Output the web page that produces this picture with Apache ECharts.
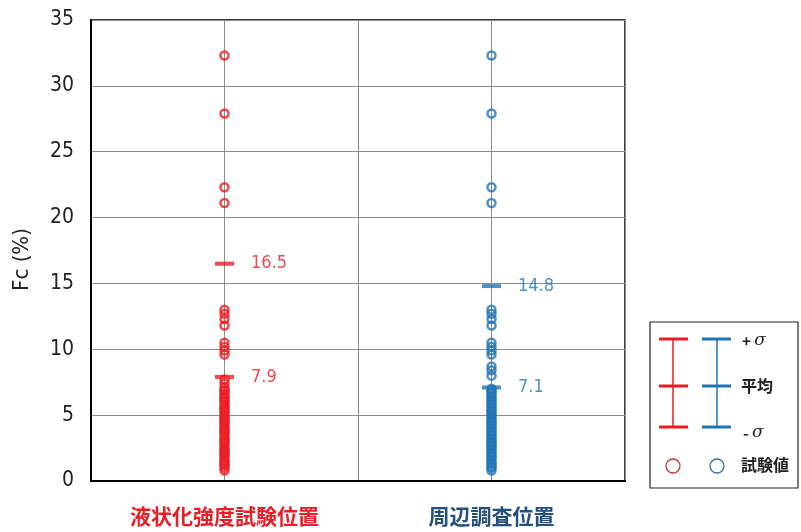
<!DOCTYPE html>
<html>
<head>
<meta charset="utf-8">
<script src="https://cdn.jsdelivr.net/npm/echarts@6/dist/echarts.min.js"></script>
<style>html,body{margin:0;padding:0;background:#fff;}#main{width:801px;height:532px;}</style>
</head>
<body>
<div id="main"></div>
<script>
// ---- data ----
var categories = ['液状化強度試験位置', '周辺調査位置'];
var yTicks = [0, 5, 10, 15, 20, 25, 30, 35];
var redValues = [32.3, 27.9, 22.3, 21.1, 13.0, 12.7, 12.3, 11.8, 10.5, 10.2, 9.9, 9.6, 7.7, 7.4,
  7.1, 6.9, 6.8, 6.6, 6.4, 6.3, 6.1, 6.0, 5.8, 5.6, 5.5, 5.3, 5.2, 5.0, 4.8, 4.7, 4.5, 4.4, 4.2, 4.0, 3.9, 3.7,
  3.6, 3.4, 3.2, 3.1, 2.9, 2.8, 2.6, 2.4, 2.3, 2.1, 2.0, 1.8, 1.6, 1.5, 1.3, 1.2, 1.0, 0.8];
var blueValues = [32.3, 27.9, 22.3, 21.1, 13.0, 12.7, 12.3, 11.8, 10.5, 10.2, 9.9, 9.6, 8.7, 8.4, 8.0,
  7.0, 6.9, 6.7, 6.6, 6.4, 6.2, 6.1, 5.9, 5.8, 5.6, 5.4, 5.3, 5.1, 5.0, 4.8, 4.6, 4.5, 4.3, 4.2, 4.0, 3.8, 3.7,
  3.5, 3.4, 3.2, 3.0, 2.9, 2.7, 2.6, 2.4, 2.2, 2.1, 1.9, 1.8, 1.6, 1.4, 1.3, 1.1, 1.0, 0.8];
var redMean = 7.9, redPlusSigma = 16.5;
var blueMean = 7.1, bluePlusSigma = 14.8;

var RED = '#ec1c24', BLUE = '#1f74b6', CATBLUE = '#24507e';
var NUMFONT = '"DejaVu Sans Condensed", "Liberation Sans", Arial, sans-serif';

var chart = echarts.init(document.getElementById('main'), null, {renderer: 'canvas'});

function pts(idx, arr) { return arr.map(function (v) { return [idx, v]; }); }

var option = {
  backgroundColor: '#fff',
  animation: false,
  grid: {left: 91, right: 176, top: 20, bottom: 51, show: true, borderColor: '#000', borderWidth: 1.5, backgroundColor: 'transparent'},
  xAxis: [
    {
      type: 'category', data: categories.map(function (c, i) {
        return {value: c, textStyle: {color: i === 0 ? RED : CATBLUE}};
      }),
      boundaryGap: true,
      axisLine: {show: true, lineStyle: {color: '#000', width: 2}},
      axisTick: {show: false},
      splitLine: {show: true, lineStyle: {color: '#8c8c8c', width: 1}},
      axisLabel: {margin: 25, fontSize: 21, fontWeight: 'bold', fontFamily: 'Noto Sans CJK JP'}
    },
    {
      type: 'value', min: 0, max: 4, interval: 1, show: true, position: 'bottom',
      axisLine: {show: false}, axisTick: {show: false}, axisLabel: {show: false},
      splitLine: {show: true, lineStyle: {color: '#8c8c8c', width: 1}}
    }
  ],
  yAxis: {
    type: 'value', min: 0, max: 35, interval: 5,
    name: 'Fc (%)', nameLocation: 'middle', nameGap: 58,
    nameTextStyle: {fontSize: 22, color: '#222', fontFamily: NUMFONT, padding: [0, 18, 0, 0]},
    axisLine: {show: true, lineStyle: {color: '#000', width: 2}},
    axisTick: {show: false},
    axisLabel: {fontSize: 21, color: '#222', margin: 17, fontFamily: NUMFONT,
      formatter: function (v) { return yTicks.indexOf(v) >= 0 ? String(v) : ''; }},
    splitLine: {show: true, lineStyle: {color: '#8c8c8c', width: 1}}
  },
  series: [
    {
      type: 'scatter', xAxisIndex: 0, data: pts(0, redValues), symbol: 'circle', symbolSize: 8,
      itemStyle: {color: 'rgba(255,255,255,0)', borderColor: RED, borderWidth: 2.5}
    },
    {
      type: 'scatter', xAxisIndex: 0, data: pts(1, blueValues), symbol: 'circle', symbolSize: 8,
      itemStyle: {color: 'rgba(255,255,255,0)', borderColor: BLUE, borderWidth: 2.5}
    },
    {
      type: 'scatter', xAxisIndex: 0, data: pts(0, [redPlusSigma, redMean]), symbol: 'rect', symbolSize: [19, 4],
      itemStyle: {color: RED}, z: 5,
      label: {show: true, position: 'right', distance: 17, color: RED, fontSize: 18, fontFamily: NUMFONT,
        formatter: function (p) { return p.value[1].toFixed(1); }}
    },
    {
      type: 'scatter', xAxisIndex: 0, data: pts(1, [bluePlusSigma, blueMean]), symbol: 'rect', symbolSize: [19, 4],
      itemStyle: {color: BLUE}, z: 5,
      label: {show: true, position: 'right', distance: 17, color: BLUE, fontSize: 18, fontFamily: NUMFONT,
        formatter: function (p) { return p.value[1].toFixed(1); }}
    }
  ],
  graphic: [
    {type: 'rect', shape: {x: 650, y: 322, width: 148, height: 166}, style: {fill: '#fff', stroke: '#222', lineWidth: 1.2}},
    // red I-bar
    {type: 'line', shape: {x1: 673, y1: 339, x2: 673, y2: 427}, style: {stroke: RED, lineWidth: 1.5}},
    {type: 'line', shape: {x1: 659, y1: 339, x2: 688, y2: 339}, style: {stroke: RED, lineWidth: 3}},
    {type: 'line', shape: {x1: 659, y1: 386, x2: 688, y2: 386}, style: {stroke: RED, lineWidth: 3}},
    {type: 'line', shape: {x1: 659, y1: 427, x2: 688, y2: 427}, style: {stroke: RED, lineWidth: 3}},
    // blue I-bar
    {type: 'line', shape: {x1: 717, y1: 339, x2: 717, y2: 427}, style: {stroke: BLUE, lineWidth: 1.5}},
    {type: 'line', shape: {x1: 702, y1: 339, x2: 731, y2: 339}, style: {stroke: BLUE, lineWidth: 3}},
    {type: 'line', shape: {x1: 702, y1: 386, x2: 731, y2: 386}, style: {stroke: BLUE, lineWidth: 3}},
    {type: 'line', shape: {x1: 702, y1: 427, x2: 731, y2: 427}, style: {stroke: BLUE, lineWidth: 3}},
    // circles
    {type: 'circle', shape: {cx: 673, cy: 466, r: 7}, style: {fill: 'none', stroke: '#c8383c', lineWidth: 1.3}},
    {type: 'circle', shape: {cx: 717, cy: 466, r: 7}, style: {fill: 'none', stroke: '#3a73a8', lineWidth: 1.3}},
    // texts
    {type: 'text', x: 742, y: 341, style: {rich: {a: {font: 'bold 15px "Noto Sans CJK JP"', fill: '#222'}, s: {font: 'italic 17px "DejaVu Serif", serif', fill: '#222'}}, text: '{a|+ }{s|σ}', verticalAlign: 'middle'}},
    {type: 'text', x: 741, y: 386, style: {text: '平均', fill: '#222', font: 'bold 16px "Noto Sans CJK JP"', verticalAlign: 'middle'}},
    {type: 'text', x: 743, y: 433, style: {rich: {a: {font: 'bold 15px "Noto Sans CJK JP"', fill: '#222'}, s: {font: 'italic 17px "DejaVu Serif", serif', fill: '#222'}}, text: '{a|- }{s|σ}', verticalAlign: 'middle'}},
    {type: 'text', x: 741, y: 465, style: {text: '試験値', fill: '#222', font: 'bold 16px "Noto Sans CJK JP"', verticalAlign: 'middle'}}
  ]
};
chart.setOption(option);
</script>
</body>
</html>
